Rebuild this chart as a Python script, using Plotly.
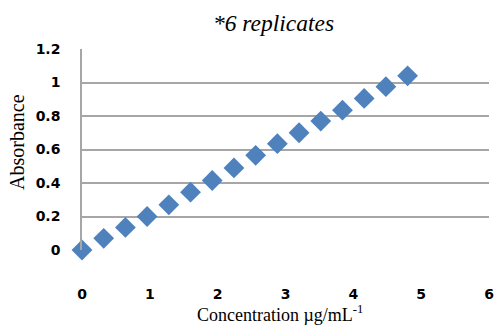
import plotly.graph_objects as go

concentration = [0, 0.32, 0.64, 0.96, 1.28, 1.6, 1.92, 2.24, 2.56, 2.88, 3.2, 3.52, 3.84, 4.16, 4.48, 4.8]
absorbance = [0, 0.07, 0.135, 0.20, 0.27, 0.345, 0.415, 0.49, 0.565, 0.635, 0.70, 0.77, 0.835, 0.905, 0.975, 1.04]
x_ticks = [0, 1, 2, 3, 4, 5, 6]
y_ticks = [0, 0.2, 0.4, 0.6, 0.8, 1, 1.2]

fig = go.Figure()
fig.add_trace(go.Scatter(
    x=concentration, y=absorbance, mode="markers",
    marker=dict(symbol="diamond", size=16, color="#4F81BD", line=dict(width=0)),
    showlegend=False, cliponaxis=False,
))

tick_font = dict(family="DejaVu Sans", size=14, color="#000000", weight="bold")
fig.update_layout(
    width=497, height=325,
    margin=dict(l=82, r=8, t=49, b=75),
    paper_bgcolor="white", plot_bgcolor="white",
    title=dict(text="<i>*6 replicates</i>", x=273.5 / 497, xanchor="center", xref="container",
               y=1 - 23 / 325, yref="container", yanchor="middle",
               font=dict(family="Liberation Serif", size=23.5, color="#000000")),
    xaxis=dict(range=[0, 6], tickvals=x_ticks, showgrid=False, zeroline=False,
               showline=False, ticks="outside", ticklen=31, tickcolor="rgba(0,0,0,0)",
               tickfont=tick_font, automargin=False, ticklabeloverflow="allow"),
    yaxis=dict(range=[0, 1.2], tickvals=y_ticks, showgrid=True, gridcolor="#A6A6A6", gridwidth=1.5,
               zeroline=False, showline=True, linecolor="#A6A6A6", linewidth=1.5,
               ticks="outside", ticklen=17, tickcolor="rgba(0,0,0,0)",
               tickfont=tick_font, automargin=False, ticklabeloverflow="allow"),
    annotations=[
        dict(text="Absorbance", textangle=-90, xref="paper", yref="paper",
             x=-(82 - 17) / 407, y=(250 - 142) / 201, xanchor="center", yanchor="middle",
             showarrow=False, font=dict(family="Liberation Serif", size=20, color="#000000")),
        dict(text="Concentration µg/mL<sup>-1</sup>", xref="paper", yref="paper",
             x=(279.5 - 82) / 407, y=-(313 - 250) / 201, xanchor="center", yanchor="middle",
             showarrow=False, font=dict(family="Liberation Serif", size=18, color="#000000")),
    ],
)

fig.write_html("out.html", config={"displayModeBar": False},
               post_script="document.body.style.margin='0';")
